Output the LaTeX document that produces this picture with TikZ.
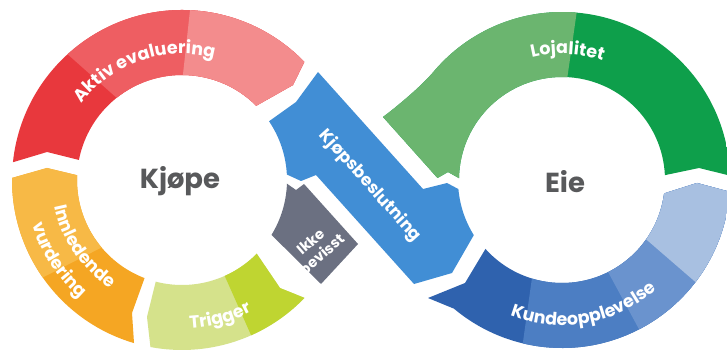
\documentclass[tikz,border=0pt]{standalone}
\usepackage{fontspec}
\setmainfont{Poppins}
\usetikzlibrary{calc,decorations.text}
\definecolor{redA}{HTML}{E8383D}
\definecolor{redB}{HTML}{EE5E62}
\definecolor{redC}{HTML}{F38C8D}
\definecolor{orA}{HTML}{F5A623}
\definecolor{orB}{HTML}{F7B946}
\definecolor{trA}{HTML}{D5E28B}
\definecolor{trB}{HTML}{BFD531}
\definecolor{grayP}{HTML}{6B7081}
\definecolor{blueK}{HTML}{418ED5}
\definecolor{kuA}{HTML}{2F62AE}
\definecolor{kuB}{HTML}{4C7EC3}
\definecolor{kuC}{HTML}{6A93CE}
\definecolor{kuD}{HTML}{A8C0E1}
\definecolor{grA}{HTML}{0E9F4B}
\definecolor{grB}{HTML}{6BB56F}
\definecolor{txtgray}{HTML}{58595B}
\tikzset{
  lbl/.style={text=white,font=\bfseries\fontsize{17}{17}\selectfont},
  big/.style={text=txtgray,font=\bfseries\fontsize{27.5}{27.5}\selectfont},
  arctext/.style={decorate,decoration={text along path,text align=center,text color=white,
    text={|\bfseries\fontsize{17.5}{17.5}\selectfont|#1}}}
}
\begin{document}
\begin{tikzpicture}[x=1pt,y=1pt]
\useasboundingbox (0,0) rectangle (727,356);
\fill[white] (0,0) rectangle (727,356);
\coordinate (CL) at (182,176);
\coordinate (CR) at (562,176);

% ---------- red: Aktiv evaluering
\def\redpath{($(CL)+(174:170)$) arc[start angle=174,end angle=44,radius=170] -- (293,271) -- ($(CL)+(45:105)$) arc[start angle=45,end angle=169,radius=105] -- (47,204) -- cycle}
\begin{scope}
\clip \redpath;
\fill[redA] (0,0) rectangle (727,356);
\fill[redB] ($(CL)+(128.5:50)$) -- ($(CL)+(128.5:105)$) -- ($(CL)+(132.3:170)$) -- ($(CL)+(132.3:300)$) -- ($(CL)+(80:300)$) -- ($(CL)+(20:300)$) -- ($(CL)+(20:50)$) -- cycle;
\fill[redC] ($(CL)+(89.5:50)$) -- ($(CL)+(89.5:105)$) -- ($(CL)+(87.3:170)$) -- ($(CL)+(87.3:300)$) -- ($(CL)+(20:300)$) -- ($(CL)+(20:50)$) -- cycle;
\end{scope}

% ---------- orange: Innledende vurdering
\def\orpath{($(CL)+(253.6:170)$) arc[start angle=253.6,end angle=179.3,radius=170] -- (47,188) -- ($(CL)+(177.4:105)$) arc[start angle=177.4,end angle=249.1,radius=105] -- (132,43) -- cycle}
\begin{scope}
\clip \orpath;
\fill[orA] (0,0) rectangle (727,356);
\fill[orB] ($(CL)+(220:50)$) -- ($(CL)+(220:105)$) -- ($(CL)+(215:170)$) -- ($(CL)+(215:300)$) -- ($(CL)+(150:300)$) -- ($(CL)+(150:50)$) -- cycle;
\end{scope}

% ---------- trigger
\def\trpath{($(CL)+(259.3:170)$) arc[start angle=259.3,end angle=316.1,radius=170] -- (280,68) -- ($(CL)+(315.4:105)$) arc[start angle=315.4,end angle=255.5,radius=105] -- (147,39) -- cycle}
\begin{scope}
\clip \trpath;
\fill[trA] (0,0) rectangle (727,356);
\fill[trB] ($(CL)+(294:50)$) -- ($(CL)+(294:300)$) -- ($(CL)+(350:300)$) -- ($(CL)+(350:50)$) -- cycle;
\end{scope}

% ---------- gray: Ikke bevisst
\fill[grayP] ($(CL)+(358:105)$) -- (296,166) -- (304,172) -- (358,112) -- (321,72) -- ($(CL)+(328.5:105)$) arc[start angle=328.5,end angle=358,radius=105] -- cycle;

% ---------- blue band: Kjopsbeslutning
\fill[blueK] (318,284) -- (296,254) -- ($(CL)+(34:105)$) arc[start angle=34,end angle=3,radius=105] -- (301,175) -- (316,181) -- (414,72) -- (452,83) -- ($(CR)+(212:104)$) arc[start angle=212,end angle=185,radius=104] -- (447,173) -- (423,167) -- cycle;

% ---------- green: Lojalitet
\def\grpath{($(CR)+(1.5:168)$) arc[start angle=1.5,end angle=140,radius=168] .. controls (420.4,268.7) and (395,248) .. (383,239) -- (437.5,178) -- (448,184) -- ($(CR)+(179:103)$) arc[start angle=179,end angle=2.7,radius=103] -- (699,188) -- cycle}
\begin{scope}
\clip \grpath;
\fill[grA] (0,0) rectangle (727,356);
\fill[grB] ($(CR)+(87:60)$) -- ($(CR)+(87:103)$) -- ($(CR)+(85:168)$) -- ($(CR)+(85:300)$) -- ($(CR)+(140:300)$) -- ($(CR)+(200:300)$) -- ($(CR)+(200:60)$) -- cycle;
\end{scope}

% ---------- Kundeopplevelse
\def\kupath{(428,58) -- (465,73) -- ($(CR)+(222:103)$) arc[start angle=222,end angle=352.5,radius=103] -- (697,173) -- ($(CR)+(356:168)$) arc[start angle=356,end angle=230,radius=168] -- cycle}
\begin{scope}
\clip \kupath;
\fill[kuA] (0,0) rectangle (727,356);
\fill[kuB] ($(CR)+(253:60)$) -- ($(CR)+(253:103)$) -- ($(CR)+(256.5:168)$) -- ($(CR)+(256.5:300)$) -- ($(CR)+(320:300)$) -- ($(CR)+(20:300)$) -- ($(CR)+(20:60)$) -- cycle;
\fill[kuC] ($(CR)+(297:60)$) -- ($(CR)+(296.6:103)$) -- ($(CR)+(297.3:168)$) -- ($(CR)+(297.3:300)$) -- ($(CR)+(20:300)$) -- ($(CR)+(20:60)$) -- cycle;
\fill[kuD] ($(CR)+(325:60)$) -- ($(CR)+(324.8:103)$) -- ($(CR)+(322.6:168)$) -- ($(CR)+(322.6:300)$) -- ($(CR)+(20:300)$) -- ($(CR)+(20:60)$) -- cycle;
\end{scope}

% ---------- texts
\node[big] (kjope) at (180,175) {Kjøpe};
\node[big] (eie) at (565,174) {Eie};

\path[arctext={Aktiv evaluering}] ($(CL)+(152:126)$) arc[start angle=152,end angle=66,radius=126];
\path[arctext={Innledende}] ($(CL)+(182:130)$) arc[start angle=182,end angle=246,radius=130];
\path[arctext={vurdering}] ($(CL)+(185:156)$) arc[start angle=185,end angle=241,radius=156];
\path[arctext={Trigger}] ($(CL)+(262:149)$) arc[start angle=262,end angle=309,radius=149];
\path[arctext={Lojalitet}] ($(CR)+(125:126)$) arc[start angle=125,end angle=50,radius=126];
\path[arctext={Kundeopplevelse}] ($(CR)+(230:145)$) arc[start angle=230,end angle=330,radius=145];

\node[lbl] [rotate=-48] (kjb) at (370,170) {Kjøpsbeslutning};
\node[lbl,rotate=41,align=center,font=\bfseries\fontsize{14.5}{17}\selectfont] (ikke) at (316,108) {Ikke\\bevisst};
\end{tikzpicture}
\end{document}
